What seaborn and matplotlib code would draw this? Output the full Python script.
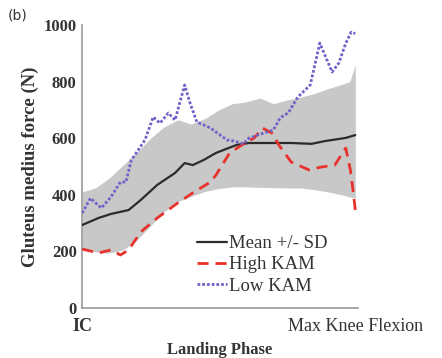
import numpy as np
import pandas as pd
import seaborn as sns
import matplotlib.pyplot as plt

# Landing phase in percent (0 = IC, 100 = max knee flexion)
band_phase = [0, 5, 10, 15, 20, 25, 30, 35, 40, 45, 50, 55, 60, 65, 70, 75, 80, 85, 90, 95, 98, 100]
sd_upper = [410, 425, 460, 505, 550, 600, 640, 665, 650, 670, 700, 722, 728, 742, 722, 735, 745, 758, 775, 790, 800, 860]
sd_lower = [205, 198, 194, 205, 240, 290, 340, 375, 395, 412, 422, 428, 428, 426, 425, 424, 424, 418, 410, 400, 392, 388]

mean_phase = [0, 6, 10.5, 17, 21.5, 27.5, 34, 37.5, 40.5, 44.5, 49, 56.5, 61, 67, 76.5, 84, 89, 96.5, 100]
mean_force = [293, 318, 332, 346, 382, 435, 477, 512, 505, 523, 548, 576, 583, 583, 583, 580, 590, 601, 611]

high_phase = [0, 6, 10.5, 14, 17, 21.5, 27.5, 35, 41, 47, 49, 54, 58.5, 63, 66, 69.5, 72, 76.5,
              83, 87.5, 92.5, 96.5, 98.2, 99.3, 100]
high_force = [208, 194, 205, 187, 205, 269, 318, 371, 410, 445, 470, 548, 576, 601, 636, 618, 576, 516,
              488, 498, 505, 565, 488, 406, 346]

low_phase = [0, 3, 7, 10.5, 14, 16, 18, 20.5, 23, 26, 28.5, 31.5, 34, 37.5, 39.5, 42, 47, 50.5, 53,
             55.5, 59, 61, 65.5, 70, 72.5, 75.5, 79, 83.5, 87, 91.5, 94, 96.5, 98.5, 100]
low_force = [335, 388, 353, 392, 445, 445, 523, 558, 594, 675, 653, 689, 664, 788, 724, 657, 636, 611, 594,
             590, 580, 600, 615, 629, 672, 690, 746, 788, 936, 834, 866, 936, 975, 970]


def main():
    sns.set_style('white')
    plt.rcParams['font.family'] = ['Liberation Serif', 'DejaVu Serif']

    fig = plt.figure(figsize=(4.42, 3.58), dpi=100)
    ax = fig.add_axes([0.186, 0.14, 0.624, 0.79])

    ax.fill_between(band_phase, sd_lower, sd_upper, color='#c8c8c8', linewidth=0, zorder=1)

    mean_df = pd.DataFrame({'phase': mean_phase, 'force': mean_force})
    high_df = pd.DataFrame({'phase': high_phase, 'force': high_force})
    low_df = pd.DataFrame({'phase': low_phase, 'force': low_force})

    sns.lineplot(data=mean_df, x='phase', y='force', ax=ax, color='#2b2b2b', lw=1.6,
                 label='Mean +/- SD', zorder=3)
    sns.lineplot(data=high_df, x='phase', y='force', ax=ax, color='#e8322c', lw=2,
                 linestyle=(0, (4, 2.5)), label='High KAM', zorder=4)
    sns.lineplot(data=low_df, x='phase', y='force', ax=ax, color='#6f63c9', lw=2,
                 linestyle=(0, (1, 0.7)), label='Low KAM', zorder=5)

    ax.set_xlim(0, 101)
    ax.set_ylim(0, 1000)
    ax.set_yticks([0, 200, 400, 600, 800, 1000])
    ax.set_xticks([0, 100])
    ax.set_xticklabels(['IC', 'Max Knee Flexion'])
    ax.tick_params(axis='y', length=2, width=0.8, color='#999999', labelsize=12,
                   labelcolor='#333333', pad=2)
    ax.tick_params(axis='x', length=2, width=0.8, color='#999999', labelsize=13,
                   labelcolor='#333333', pad=5)
    for lbl in ax.get_yticklabels():
        lbl.set_fontweight('bold')
    ax.get_xticklabels()[0].set_fontweight('bold')

    for side in ['top', 'right']:
        ax.spines[side].set_visible(False)
    for side in ['left', 'bottom']:
        ax.spines[side].set_color('#999999')
        ax.spines[side].set_linewidth(1.2)

    ax.set_xlabel('Landing Phase', fontsize=12, fontweight='bold', color='#333333', labelpad=5)
    ax.set_ylabel('Gluteus medius force (N)', fontsize=13.5, fontweight='bold', color='#333333',
                  labelpad=3)

    ax.legend(loc='lower left', bbox_to_anchor=(0.39, 0.02), frameon=False, fontsize=13.5,
              handlelength=1.6, handletextpad=0.1, labelspacing=0.22, borderaxespad=0)
    for t in ax.get_legend().get_texts():
        t.set_color('#333333')

    fig.text(0.018, 0.945, '(b)', fontsize=10, family='DejaVu Sans', color='#333333')

    fig.savefig('out.png', dpi=100)


if __name__ == "__main__":
    main()
